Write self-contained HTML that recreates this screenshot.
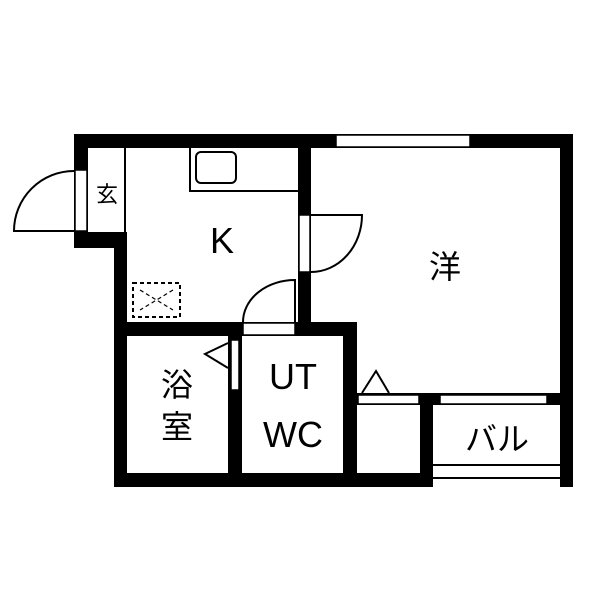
<!DOCTYPE html>
<html><head><style>body{margin:0;background:#fff}</style></head><body>
<svg width="600" height="600" xmlns="http://www.w3.org/2000/svg" font-family="Liberation Sans, Noto Sans CJK JP, sans-serif">
<rect width="600" height="600" fill="#fff"/>
<g fill="#000">
<!-- top wall -->
<rect x="74" y="134" width="499" height="14"/>
<!-- entry left wall -->
<rect x="74" y="134" width="14" height="114"/>
<rect x="74" y="232" width="53" height="16"/>
<!-- kitchen left wall -->
<rect x="114" y="232" width="13" height="255"/>
<!-- K/洋 wall -->
<rect x="298" y="134" width="13" height="202"/>
<!-- kitchen bottom wall -->
<rect x="114" y="322" width="243" height="14"/>
<!-- bath/UT wall -->
<rect x="228" y="322" width="14" height="165"/>
<!-- UT right wall -->
<rect x="343" y="322" width="14" height="165"/>
<!-- bottom wall -->
<rect x="114" y="473" width="319" height="14"/>
<!-- storage top -->
<rect x="357" y="393" width="203" height="12"/>
<!-- storage/balcony wall -->
<rect x="420" y="393" width="13" height="94"/>
<!-- right wall -->
<rect x="560" y="134" width="13" height="353"/>
</g>
<!-- openings -->
<g fill="#fff" stroke="#000" stroke-width="1.5">
<rect x="75" y="170" width="12" height="61"/>
<rect x="299" y="215" width="11" height="57"/>
<rect x="243" y="323" width="52" height="12"/>
<rect x="231" y="340" width="8" height="50"/>
<rect x="336" y="135" width="134" height="12"/>
<rect x="358" y="395" width="61" height="9"/>
<rect x="440" y="395" width="107" height="9"/>
</g>
<g fill="none" stroke="#000" stroke-width="2">
<!-- genkan line -->
<line x1="125" y1="148" x2="125" y2="232"/>
<!-- entry door -->
<path d="M74 171 A60 60 0 0 0 14 231 L74 231"/>
<!-- counter -->
<path d="M190 148 V191 H298"/>
<rect x="196" y="152" width="40" height="31" rx="5"/>
<!-- 洋 door -->
<path d="M311 215 H362 A51 57 0 0 1 311 272"/>
<!-- UT door -->
<path d="M295 322 V280 A52 42 0 0 0 243 322"/>
<!-- triangles -->
<path d="M228 343 L205 354 L228 368"/>
<path d="M362 393 L376 371 L389 393"/>
<!-- dashed box -->
<rect x="133" y="283" width="47" height="34" stroke-dasharray="4 3"/>
<path d="M140 290 L173 310 M173 290 L140 310" stroke-width="1.2" stroke-dasharray="4 3"/>
<!-- balcony -->
<line x1="433" y1="465" x2="560" y2="465" stroke-width="2"/>
<line x1="433" y1="478" x2="560" y2="478" stroke-width="2"/>
</g>
<g fill="#000">
<text x="107" y="202" font-size="22" text-anchor="middle">玄</text>
<text x="222" y="253" font-size="36" text-anchor="middle">K</text>
<text x="445" y="278" font-size="32" text-anchor="middle">洋</text>
<text x="177" y="396" font-size="32" text-anchor="middle">浴</text>
<text x="177" y="438" font-size="32" text-anchor="middle">室</text>
<text x="293" y="389" font-size="36" text-anchor="middle">UT</text>
<text x="293" y="447" font-size="36" text-anchor="middle">WC</text>
<text x="497" y="450" font-size="32" text-anchor="middle">バル</text>
</g>
</svg>
</body></html>
